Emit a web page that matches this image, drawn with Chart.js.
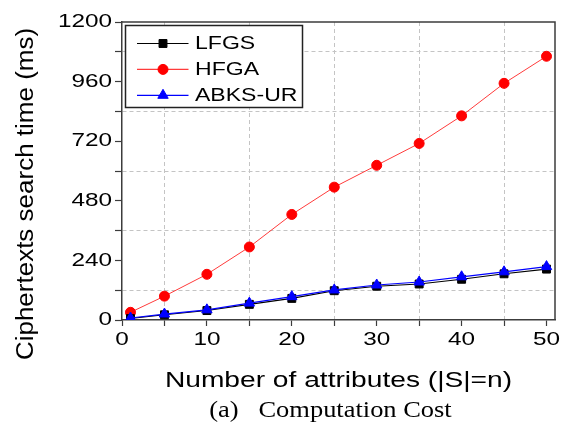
<!DOCTYPE html>
<html>
<head>
<meta charset="utf-8">
<title>Ciphertexts search time</title>
<script src="https://cdn.jsdelivr.net/npm/chart.js@4.4.1/dist/chart.umd.min.js"></script>
<style>
  html, body { margin: 0; padding: 0; background: #ffffff; }
  #wrap { width: 564px; height: 424px; }
</style>
</head>
<body>
<div id="wrap"><canvas id="chart" width="564" height="424"></canvas></div>
<script>
// Number of attributes |S| = n
const attributeCounts = [1, 5, 10, 15, 20, 25, 30, 35, 40, 45, 50];
// Search time (ms) for each scheme
const lfgsTimes = [6, 21, 38, 63, 87, 118, 136, 145, 164, 186, 205];
const hfgaTimes = [31, 96, 184, 294, 425, 535, 623, 711, 822, 953, 1062];
const abksTimes = [8, 24, 41, 68, 94, 121, 141, 153, 174, 194, 215];
const seriesNames = ['LFGS', 'HFGA', 'ABKS-UR'];
// Labelled ticks (the other ticks are unlabelled minor ticks)
const xTickLabels = [0, 10, 20, 30, 40, 50];
const yTickLabels = [0, 240, 480, 720, 960, 1200];

const SANS = "'Liberation Sans', Arial, Helvetica, sans-serif";
const SERIF = "'Liberation Serif', 'Times New Roman', serif";

const toPoints = ys => attributeCounts.map((x, i) => ({ x: x, y: ys[i] }));

// The figure's lettering is set wide; stretch glyphs horizontally around their anchor.
const wideText = {
  id: 'wideText',
  beforeInit(chart) {
    const ctx = chart.ctx;
    const baseFillText = ctx.fillText;
    ctx.fillText = function (text, x, y) {
      const sx = this.textStretch || (/Serif/.test(this.font) ? 1.15 : 1.28);
      this.save();
      this.translate(x, y);
      this.scale(sx, 1);
      baseFillText.call(this, text, 0, 0);
      this.restore();
    };
  }
};

function drawMarker(ctx, ds, x, y) {
  const opts = {
    pointStyle: ds.pointStyle,
    radius: ds.pointRadius,
    rotation: 0,
    borderWidth: ds.pointBorderWidth
  };
  ctx.fillStyle = ds.pointBackgroundColor;
  ctx.strokeStyle = ds.pointBorderColor;
  ctx.lineWidth = ds.pointBorderWidth;
  Chart.helpers.drawPoint(ctx, opts, x, y);
}

// Plot frame, boxed legend, rotated y title and the figure caption.
const figureDecor = {
  id: 'figureDecor',
  afterDraw(chart) {
    const ctx = chart.ctx;
    const a = chart.chartArea;
    ctx.save();

    // top and right edges of the frame
    ctx.strokeStyle = '#3c3c3c';
    ctx.lineWidth = 1.5;
    ctx.beginPath();
    ctx.moveTo(a.left, a.top);
    ctx.lineTo(a.right, a.top);
    ctx.lineTo(a.right, a.bottom);
    ctx.stroke();

    // legend box
    const bx = a.left + 3.5, by = a.top + 3.5, bw = 177, bh = 82;
    ctx.fillStyle = '#ffffff';
    ctx.fillRect(bx, by, bw, bh);
    ctx.strokeStyle = '#222222';
    ctx.lineWidth = 1.5;
    ctx.strokeRect(bx, by, bw, bh);
    ctx.textStretch = 1.28;
    ctx.font = '18px ' + SANS;
    ctx.textAlign = 'left';
    ctx.textBaseline = 'middle';
    chart.data.datasets.forEach((ds, i) => {
      const y = by + 18 + i * 25.9;
      ctx.strokeStyle = ds.borderColor;
      ctx.lineWidth = 1.2;
      ctx.beginPath();
      ctx.moveTo(bx + 11.5, y);
      ctx.lineTo(bx + 63, y);
      ctx.stroke();
      drawMarker(ctx, ds, bx + 37.5, y);
      ctx.fillStyle = '#000000';
      ctx.fillText(ds.label, bx + 69.5, y + 1);
    });

    // y axis title
    ctx.save();
    ctx.translate(27, (a.top + a.bottom) / 2 + 23);
    ctx.rotate(-Math.PI / 2);
    ctx.textStretch = 1.13;
    ctx.font = '23px ' + SANS;
    ctx.textAlign = 'center';
    ctx.textBaseline = 'middle';
    ctx.fillStyle = '#000000';
    ctx.fillText('Ciphertexts search time (ms)', 0, 0);
    ctx.restore();

    // caption
    ctx.textStretch = 1.15;
    ctx.font = '23px ' + SERIF;
    ctx.textAlign = 'center';
    ctx.textBaseline = 'middle';
    ctx.fillStyle = '#000000';
    ctx.fillText('(a)   Computation Cost', (a.left + a.right) / 2 - 8, chart.height - 13);

    ctx.textStretch = 0;
    ctx.restore();
  }
};

const gridDash = [4, 3];
const gridColor = '#c4c4c4';

new Chart(document.getElementById('chart'), {
  type: 'line',
  data: {
    datasets: [
      {
        label: seriesNames[0],
        data: toPoints(lfgsTimes),
        borderColor: '#000000',
        borderWidth: 1.1,
        pointStyle: 'rect',
        pointRadius: 5.6,
        pointBackgroundColor: '#000000',
        pointBorderColor: '#000000',
        pointBorderWidth: 1,
        order: 1
      },
      {
        label: seriesNames[1],
        data: toPoints(hfgaTimes),
        borderColor: '#ff3b3b',
        borderWidth: 1,
        pointStyle: 'circle',
        pointRadius: 5,
        pointBackgroundColor: '#ff0000',
        pointBorderColor: '#ff0000',
        pointBorderWidth: 1,
        order: 1
      },
      {
        label: seriesNames[2],
        data: toPoints(abksTimes),
        borderColor: '#0000ff',
        borderWidth: 1.2,
        pointStyle: 'triangle',
        pointRadius: 6,
        pointBackgroundColor: '#0000ff',
        pointBorderColor: '#0000ff',
        pointBorderWidth: 1,
        order: 0
      }
    ]
  },
  options: {
    responsive: false,
    animation: false,
    events: [],
    layout: { padding: { left: 0, right: 9, top: 22, bottom: 30 } },
    plugins: {
      legend: { display: false },
      tooltip: { enabled: false },
      title: { display: false }
    },
    elements: { line: { tension: 0 } },
    scales: {
      x: {
        type: 'linear',
        min: 0,
        max: 51,
        afterFit(scale) { scale.height = 74; },
        ticks: {
          stepSize: 5,
          includeBounds: false,
          autoSkip: false,
          maxRotation: 0,
          padding: 2,
          color: '#000000',
          font: { family: SANS, size: 19 },
          callback: v => (xTickLabels.includes(v) ? String(v) : '')
        },
        grid: {
          drawTicks: true,
          tickLength: 6,
          tickColor: '#3c3c3c',
          tickWidth: 1.2,
          tickBorderDash: [],
          lineWidth: 1,
          color: c => (c.tick && c.tick.value % 10 === 5 ? gridColor : 'rgba(0,0,0,0)')
        },
        border: { display: true, color: '#3c3c3c', width: 1.5, dash: gridDash },
        title: {
          display: true,
          text: 'Number of attributes (|S|=n)',
          color: '#000000',
          font: { family: SANS, size: 22, lineHeight: 1.15 },
          padding: { top: 0, bottom: 0 }
        }
      },
      y: {
        min: 0,
        max: 1200,
        afterFit(scale) { scale.width = 122; },
        ticks: {
          stepSize: 120,
          autoSkip: false,
          padding: 3,
          color: '#000000',
          font: { family: SANS, size: 19 },
          callback: v => (yTickLabels.includes(v) ? String(v) : '')
        },
        grid: {
          drawTicks: true,
          tickLength: 7,
          tickColor: '#3c3c3c',
          tickWidth: 1.2,
          tickBorderDash: [],
          lineWidth: 1,
          color: c => (c.tick && c.tick.value % 240 === 120 ? gridColor : 'rgba(0,0,0,0)')
        },
        border: { display: true, color: '#3c3c3c', width: 1.5, dash: gridDash }
      }
    }
  },
  plugins: [wideText, figureDecor]
});
</script>
</body>
</html>
